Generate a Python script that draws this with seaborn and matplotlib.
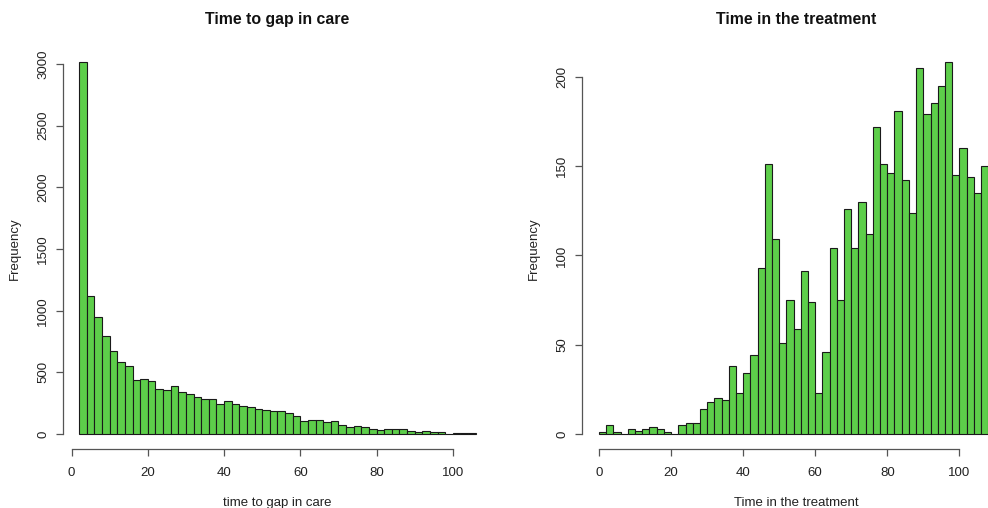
import numpy as np
import pandas as pd
import matplotlib
matplotlib.use("Agg")
import matplotlib.pyplot as plt
import seaborn as sns

# left panel: time to gap in care, bins of width 2 starting at 2
gap_edges = list(range(2, 108, 2))
gap_counts = [3013, 1119, 949, 797, 672, 583, 553, 436, 447, 428,
              363, 355, 388, 344, 322, 298, 282, 282, 244, 266,
              244, 225, 219, 200, 193, 186, 186, 171, 146, 108,
              116, 111, 97, 105, 78, 54, 62, 54, 40, 32,
              40, 40, 40, 24, 16, 24, 16, 16, 0, 8,
              10, 6]

# right panel: time in the treatment, bins of width 2 starting at 0
trt_edges = list(range(0, 110, 2))
trt_counts = [1, 5, 1, 0, 3, 2, 3, 4, 3, 1,
              0, 5, 6, 6, 14, 18, 20, 19, 38, 23,
              34, 44, 93, 151, 109, 51, 75, 59, 91, 74,
              23, 46, 104, 75, 126, 104, 130, 112, 172, 151,
              146, 181, 142, 124, 205, 179, 185, 195, 208, 145,
              160, 144, 135, 150]

x_ticks = [0, 20, 40, 60, 80, 100]
gap_yticks = [0, 500, 1000, 1500, 2000, 2500, 3000]
trt_yticks = [0, 50, 100, 150, 200]

sns.set_theme(style="white")
plt.rcParams['font.family'] = ['Liberation Sans', 'DejaVu Sans']

fill = "#5dce4a"
W, H = 988, 508
fig = plt.figure(figsize=(W / 100, H / 100), dpi=100)

bottom = 1 - 449 / H
height = (449 - 47.5) / H
ax1 = fig.add_axes([63.3 / W, bottom, 428.3 / W, height])
ax2 = fig.add_axes([582.3 / W, bottom, 428.3 / W, height])


def r_hist(ax, edges, counts, xlim, yticks, title, xlabel):
    e = np.array(edges, dtype=float)
    df = pd.DataFrame({"mid": (e[:-1] + e[1:]) / 2, "n": counts})
    sns.histplot(data=df, x="mid", weights="n", bins=edges, ax=ax,
                 color=fill, edgecolor="#1a1a1a", linewidth=0.8, alpha=1)
    ymax = max(counts)
    ax.set_xlim(*xlim)
    ax.set_ylim(-0.04 * ymax, 1.04 * ymax)
    ax.set_xticks(x_ticks)
    ax.set_yticks(yticks)
    for s in ["top", "right"]:
        ax.spines[s].set_visible(False)
    ax.spines["bottom"].set_bounds(x_ticks[0], x_ticks[-1])
    ax.spines["left"].set_bounds(yticks[0], yticks[-1])
    for s in ["bottom", "left"]:
        ax.spines[s].set_color("#555555")
        ax.spines[s].set_linewidth(0.9)
    ax.tick_params(axis="both", direction="out", length=5, width=0.9,
                   color="#555555", labelsize=9.5, labelcolor="#222222",
                   bottom=True, left=True)
    ax.tick_params(axis="x", pad=8)
    ax.tick_params(axis="y", labelrotation=90, pad=5)
    for lab in ax.get_yticklabels():
        lab.set_va("center")
    ax.set_title(title, fontsize=11.4, fontweight="bold", pad=17, color="#111111")
    ax.set_xlabel(xlabel, fontsize=9.5, labelpad=13, color="#222222")
    ax.set_ylabel("Frequency", fontsize=9.5, labelpad=12, color="#222222")
    ax.set_facecolor("white")


r_hist(ax1, gap_edges, gap_counts, (-2.16, 110.16), gap_yticks,
       "Time to gap in care", "time to gap in care")
# right panel is cut off at the image edge in the original
r_hist(ax2, trt_edges, trt_counts, (-4.64, 114.22), trt_yticks,
       "Time in the treatment", "Time in the treatment")

fig.savefig("out.png", dpi=100, facecolor="white")
